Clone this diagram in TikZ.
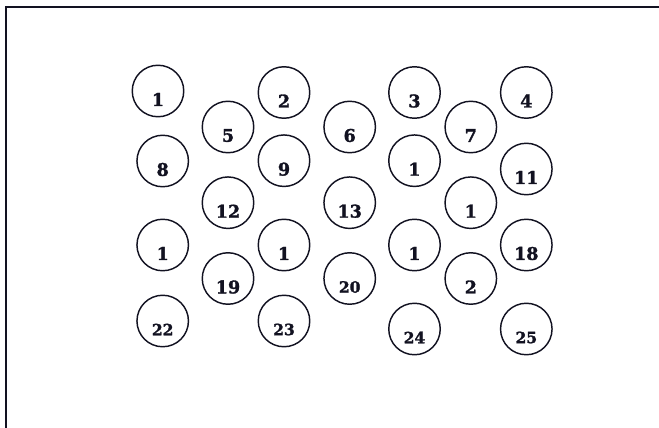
\documentclass[tikz,border=0pt]{standalone}
\usepackage{fontspec}
\setmainfont{DejaVu Serif}
\newfontfamily\heavyfont[FakeBold=1.6]{DejaVu Serif Bold}
\definecolor{ink}{rgb}{0.07,0.07,0.13}
\begin{document}
\begin{tikzpicture}[x=1pt,y=-1pt,
  ball/.style={circle,draw=ink,line width=1.45pt,minimum size=51.5pt,inner sep=0pt},
  num/.style={text=ink,font=\heavyfont\fontsize{17.5}{17.5}\selectfont,inner sep=0pt},
  smallnum/.style={text=ink,font=\heavyfont\fontsize{15.5}{15.5}\selectfont,inner sep=0pt}]
\useasboundingbox (0,0) rectangle (659,428);
\draw[ink,line width=1.6pt] (6,428) -- (6,7) -- (659,7);
\foreach \n/\x/\y/\t/\s in {
  1/158/91/1/num, 2/284/92.5/2/num, 3/414.5/92.5/3/num, 4/526.3/92.5/4/num,
  5/228/127/5/num, 6/349.7/127/6/num, 7/470.8/127/7/num,
  8/162.7/161/8/num, 9/284/160.7/9/num, 10/414.5/160.7/1/num, 11/526.3/169/11/num,
  12/228/202.7/12/num, 13/349.7/202.7/13/num, 14/470.8/202.7/1/num,
  15/162.7/245/1/num, 16/284/245/1/num, 17/414.5/245/1/num, 18/526.3/245/18/num,
  19/228/278.5/19/num, 20/349.7/278.5/20/smallnum, 21/470.8/278.5/2/num,
  22/162.7/321/22/smallnum, 23/284/321/23/smallnum, 24/414.5/329/24/smallnum, 25/526.3/329/25/smallnum}
{
  \node[ball,label={[\s,yshift=-8.5pt]center:\t}] (c\n) at (\x,\y) {};
}
\end{tikzpicture}
\end{document}
